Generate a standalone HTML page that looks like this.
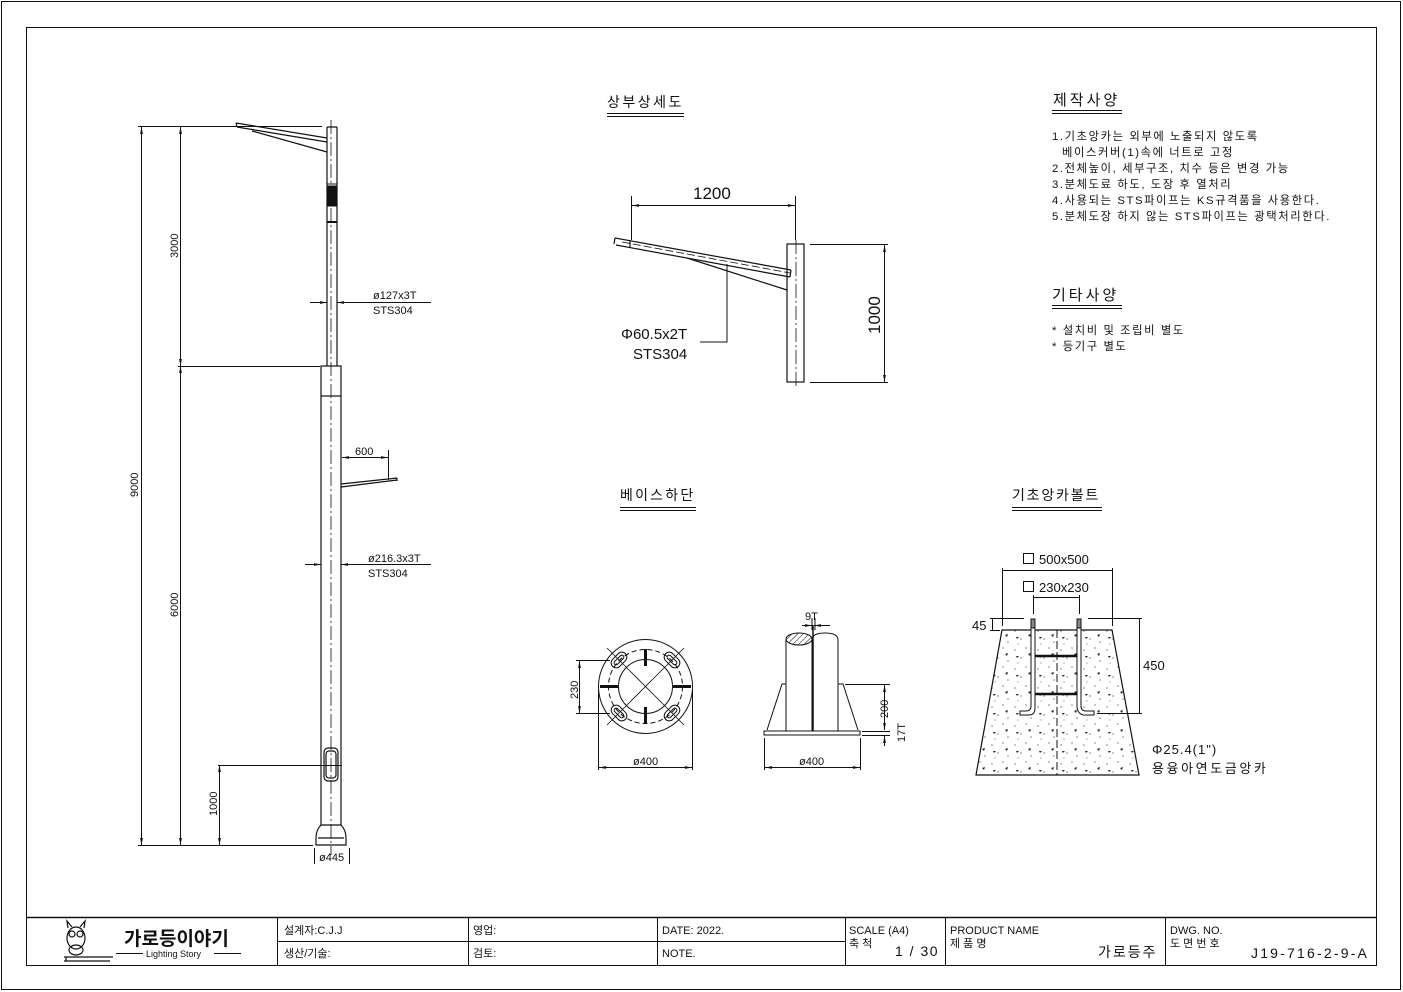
<!DOCTYPE html>
<html><head><meta charset="utf-8"><style>
html,body{margin:0;padding:0;background:#fff}
svg{display:block}
text{font-family:"Liberation Sans","Noto Sans CJK KR",sans-serif;fill:#111}
</style></head><body>
<svg width="1403" height="992" viewBox="0 0 1403 992" xmlns="http://www.w3.org/2000/svg">
<defs>
<marker id="a" viewBox="0 0 10 10" refX="10" refY="5" markerWidth="7" markerHeight="7" orient="auto-start-reverse"><path d="M0,3 L10,5 L0,7z" fill="#111"/></marker>
<pattern id="conc" width="23" height="19" patternUnits="userSpaceOnUse">
<circle cx="3" cy="4" r="0.6" fill="#333"/><circle cx="14" cy="2" r="0.6" fill="#333"/><circle cx="9" cy="12" r="0.6" fill="#333"/><circle cx="19" cy="15" r="0.6" fill="#333"/><circle cx="6" cy="17" r="0.5" fill="#333"/>
<path d="M16,8 l3,-1 l-1,3z" fill="#222"/><path d="M4,10 l3,0 l-2,2z" fill="#222"/>
</pattern>
<pattern id="hatch" width="4" height="4" patternUnits="userSpaceOnUse" patternTransform="rotate(45)"><line x1="0" y1="0" x2="0" y2="4" stroke="#111" stroke-width="1"/></pattern>
</defs>
<g fill="none" stroke="#111" stroke-width="1">
<rect x="1.5" y="1.5" width="1399" height="988"/>
<rect x="26.5" y="27.5" width="1350" height="938"/>
<line x1="26" y1="917.5" x2="1376" y2="917.5" stroke-width="1.5"/>
<line x1="277.5" y1="917" x2="277.5" y2="965"/>
<line x1="468.5" y1="917" x2="468.5" y2="965"/>
<line x1="657.5" y1="917" x2="657.5" y2="965"/>
<line x1="845.5" y1="917" x2="845.5" y2="965"/>
<line x1="945.5" y1="917" x2="945.5" y2="965"/>
<line x1="1165.5" y1="917" x2="1165.5" y2="965"/>
<line x1="277" y1="941.5" x2="845" y2="941.5"/>

<g stroke-width="1.2">
<path d="M327,127 V366 M337,127 V366 M327,127 H337"/>
<rect x="321" y="366" width="20" height="30"/>
<path d="M321,396 V825 M341,396 V825"/>
<path d="M321,825 Q316,830 316,838 L316,845 H346 L346,838 Q346,830 341,825 Z"/>
<line x1="318" y1="838" x2="344" y2="838"/>
<rect x="324" y="748" width="14" height="33" rx="4"/>
<rect x="326" y="751" width="10" height="27" rx="3"/>
<path d="M236,123 L327,138 M237,127 L327,142 M236,123 L237,127"/>
<path d="M252,131 L327,152"/>
<path d="M341,487 L397,480 M341,484 L397,478 M397,478 V481"/>
</g>
<line x1="331" y1="120" x2="331" y2="855" stroke-dasharray="14,3,2,3" stroke-width="0.8"/>
<rect x="327" y="184" width="10" height="38" stroke-width="1"/>
<rect x="327" y="186" width="10" height="20" fill="#111"/>
<line x1="327" y1="222" x2="337" y2="222" stroke-width="2"/>
<line x1="138" y1="126.5" x2="322" y2="126.5"/>
<line x1="178" y1="366.5" x2="320" y2="366.5"/>
<line x1="218" y1="765.5" x2="342" y2="765.5"/>
<line x1="138" y1="845.5" x2="313" y2="845.5"/>
<line x1="141.5" y1="127" x2="141.5" y2="845" marker-start="url(#a)" marker-end="url(#a)"/>
<line x1="180.5" y1="127" x2="180.5" y2="366" marker-start="url(#a)" marker-end="url(#a)"/>
<line x1="180.5" y1="366" x2="180.5" y2="845" marker-start="url(#a)" marker-end="url(#a)"/>
<line x1="219.5" y1="765" x2="219.5" y2="845" marker-start="url(#a)" marker-end="url(#a)"/>
<line x1="310" y1="302.5" x2="327" y2="302.5" marker-end="url(#a)"/>
<line x1="354" y1="302.5" x2="337" y2="302.5" marker-end="url(#a)"/>
<line x1="354" y1="302.5" x2="431" y2="302.5"/>
<line x1="305" y1="564.5" x2="321" y2="564.5" marker-end="url(#a)"/>
<line x1="358" y1="564.5" x2="341" y2="564.5" marker-end="url(#a)"/>
<line x1="358" y1="564.5" x2="431" y2="564.5"/>
<line x1="342" y1="457.5" x2="388" y2="457.5" marker-start="url(#a)" marker-end="url(#a)"/>
<line x1="388.5" y1="450" x2="388.5" y2="480"/>
<line x1="314.5" y1="848" x2="314.5" y2="864"/>
<line x1="349.5" y1="848" x2="349.5" y2="864"/>

<g stroke-width="1.2">
<path d="M615,238 L791,270 M616,245 L790,277 M615,238 L614,244 M791,270 L790,277 M630,240 L630,248"/>
<path d="M687,258 L787,290"/>
<rect x="787" y="244" width="17" height="138"/>
</g>
<line x1="622" y1="242" x2="790" y2="273" stroke-dasharray="8,3" stroke-width="0.8"/>
<line x1="796" y1="240" x2="796" y2="386" stroke-dasharray="14,3,2,3" stroke-width="0.8"/>
<line x1="631.5" y1="196" x2="631.5" y2="240"/>
<line x1="795.5" y1="196" x2="795.5" y2="240"/>
<line x1="632" y1="205.5" x2="795" y2="205.5" marker-start="url(#a)" marker-end="url(#a)"/>
<line x1="810" y1="244.5" x2="888" y2="244.5"/>
<line x1="810" y1="382.5" x2="888" y2="382.5"/>
<line x1="884.5" y1="245" x2="884.5" y2="382" marker-start="url(#a)" marker-end="url(#a)"/>
<path d="M727,264 V342 H700"/>

<circle cx="645.5" cy="686.5" r="47"/>
<circle cx="645.5" cy="686.5" r="27"/>
<circle cx="645.5" cy="686.5" r="37" stroke-dasharray="5,3"/>
<g stroke-width="3"><line x1="645.5" y1="649" x2="645.5" y2="666"/><line x1="645.5" y1="707" x2="645.5" y2="724"/><line x1="600" y1="686.5" x2="618" y2="686.5"/><line x1="673" y1="686.5" x2="691" y2="686.5"/></g>
<g stroke-width="0.8"><line x1="626" y1="667" x2="665" y2="706"/><line x1="665" y1="667" x2="626" y2="706"/>
<line x1="607" y1="648" x2="626" y2="667"/><line x1="684" y1="648" x2="665" y2="667"/><line x1="607" y1="725" x2="626" y2="706"/><line x1="684" y1="725" x2="665" y2="706"/></g>
<g transform="translate(619,660) rotate(-45)"><rect x="-9" y="-5" width="18" height="10" rx="5"/><rect x="-6" y="-2" width="12" height="4" rx="2"/></g>
<g transform="translate(672,660) rotate(45)"><rect x="-9" y="-5" width="18" height="10" rx="5"/><rect x="-6" y="-2" width="12" height="4" rx="2"/></g>
<g transform="translate(619,713) rotate(45)"><rect x="-9" y="-5" width="18" height="10" rx="5"/><rect x="-6" y="-2" width="12" height="4" rx="2"/></g>
<g transform="translate(672,713) rotate(-45)"><rect x="-9" y="-5" width="18" height="10" rx="5"/><rect x="-6" y="-2" width="12" height="4" rx="2"/></g>
<line x1="576" y1="660.5" x2="610" y2="660.5"/><line x1="576" y1="713.5" x2="610" y2="713.5"/>
<line x1="579.5" y1="661" x2="579.5" y2="713" marker-start="url(#a)" marker-end="url(#a)"/>
<line x1="598.5" y1="690" x2="598.5" y2="770"/><line x1="692.5" y1="690" x2="692.5" y2="770"/>
<line x1="599" y1="767.5" x2="692" y2="767.5" marker-start="url(#a)" marker-end="url(#a)"/>

<rect x="764" y="731" width="96" height="4"/>
<path d="M767,730 L782,684 H786 M838,684 H843 L858,730"/>
<path d="M786,731 V640 M812,731 V640"/>
<ellipse cx="799" cy="639" rx="13" ry="6" fill="url(#hatch)"/>
<path d="M812,731 V640 Q812,633 825,633 Q838,633 838,640 V731"/>
<line x1="813" y1="625" x2="813" y2="731" stroke-width="1.5"/>
<line x1="802" y1="625.5" x2="812" y2="625.5" marker-end="url(#a)"/>
<line x1="830" y1="625.5" x2="814" y2="625.5" marker-end="url(#a)"/>
<line x1="812" y1="618" x2="812" y2="630"/><line x1="815" y1="618" x2="815" y2="630"/>
<line x1="845" y1="684.5" x2="890" y2="684.5"/>
<line x1="862" y1="731.5" x2="890" y2="731.5"/><line x1="862" y1="735.5" x2="890" y2="735.5"/>
<line x1="884.5" y1="685" x2="884.5" y2="730" marker-start="url(#a)" marker-end="url(#a)"/>
<line x1="884.5" y1="746" x2="884.5" y2="736" marker-end="url(#a)"/>
<line x1="764.5" y1="738" x2="764.5" y2="770"/><line x1="860.5" y1="738" x2="860.5" y2="770"/>
<line x1="765" y1="767.5" x2="860" y2="767.5" marker-start="url(#a)" marker-end="url(#a)"/>

<path d="M1002,630 L1112,630 L1139,775 L976,775 Z" fill="url(#conc)" stroke-width="1.2"/>
<line x1="1057" y1="630" x2="1057" y2="775" stroke-dasharray="8,3"/>
<g stroke-width="1">
<path d="M1031,619 V706 Q1031,711 1026,711 H1020 V715 H1029 Q1035,715 1035,708 V619 Z" fill="#fff"/>
<path d="M1077,619 V706 Q1077,713 1083,715 H1094 V711 H1086 Q1081,711 1081,706 V619 Z" fill="#fff"/>
<rect x="1031" y="619" width="4" height="9" fill="#888"/><rect x="1077" y="619" width="4" height="9" fill="#888"/>
</g>
<line x1="1035" y1="656" x2="1077" y2="656" stroke-width="2.5"/>
<line x1="1035" y1="694" x2="1077" y2="694" stroke-width="2.5"/>
<line x1="1002.5" y1="568" x2="1002.5" y2="626"/><line x1="1112.5" y1="568" x2="1112.5" y2="626"/>
<line x1="1003" y1="570.5" x2="1112" y2="570.5"/>
<line x1="1033.5" y1="595" x2="1033.5" y2="614"/><line x1="1079.5" y1="595" x2="1079.5" y2="614"/>
<line x1="1034" y1="597.5" x2="1079" y2="597.5"/>
<line x1="990" y1="618.5" x2="1024" y2="618.5"/><line x1="1088" y1="618.5" x2="1142" y2="618.5"/>
<line x1="990" y1="630.5" x2="1000" y2="630.5"/>
<line x1="992.5" y1="619" x2="992.5" y2="630"/>
<line x1="1097" y1="713.5" x2="1142" y2="713.5"/>
<line x1="1139.5" y1="619" x2="1139.5" y2="713"/>
<path d="M607,113.5 H684 M607,116.5 H684"/>
<path d="M1052,110.5 H1122 M1052,113.5 H1122"/>
<path d="M1052,305.5 H1122 M1052,308.5 H1122"/>
<path d="M620,507.5 H696 M620,510.5 H696"/>
<path d="M1012,507.5 H1102 M1012,510.5 H1102"/>
<rect x="1023.5" y="553.5" width="10" height="10"/>
<rect x="1023.5" y="581.5" width="10" height="10"/>
</g>

<g font-size="11">
<text transform="translate(178,258) rotate(-90)">3000</text>
<text transform="translate(138,497) rotate(-90)">9000</text>
<text transform="translate(178,617) rotate(-90)">6000</text>
<text transform="translate(217,816) rotate(-90)">1000</text>
<text x="373" y="299">ø127x3T</text><text x="373" y="314">STS304</text>
<text x="355" y="455">600</text>
<text x="368" y="562">ø216.3x3T</text><text x="368" y="577">STS304</text>
<text x="319" y="861">ø445</text>
</g>
<text x="607" y="107" font-size="14" letter-spacing="2.5">상부상세도</text>
<text x="693" y="199" font-size="17">1200</text>
<text transform="translate(880,334) rotate(-90)" font-size="17">1000</text>
<text x="621" y="339" font-size="15">Φ60.5x2T</text>
<text x="633" y="359" font-size="15">STS304</text>
<text x="620" y="500" font-size="14" letter-spacing="2.2">베이스하단</text>
<text transform="translate(578,699) rotate(-90)" font-size="11">230</text>
<text x="633" y="765" font-size="11">ø400</text>
<text x="799" y="765" font-size="11">ø400</text>
<text x="805" y="620" font-size="11">9T</text>
<text transform="translate(888,718) rotate(-90)" font-size="11">200</text>
<text transform="translate(905,742) rotate(-90)" font-size="11">17T</text>
<text x="1012" y="500" font-size="14" letter-spacing="1.8">기초앙카볼트</text>
<text x="1039" y="564" font-size="13">500x500</text>
<text x="1039" y="592" font-size="13">230x230</text>
<text x="972" y="630" font-size="13">45</text>
<text x="1143" y="670" font-size="13">450</text>
<text x="1152" y="754" font-size="13" letter-spacing="1">Φ25.4(1")</text>
<text x="1152" y="773" font-size="13" letter-spacing="2.6">용융아연도금앙카</text>
<text x="1053" y="105" font-size="15" letter-spacing="3">제작사양</text>
<g font-size="11.3" letter-spacing="1.6">
<text x="1052" y="140">1.기초앙카는 외부에 노출되지 않도록</text>
<text x="1062" y="156">베이스커버(1)속에 너트로 고정</text>
<text x="1052" y="172">2.전체높이, 세부구조, 치수 등은 변경 가능</text>
<text x="1052" y="188">3.분체도료 하도, 도장 후 열처리</text>
<text x="1052" y="204">4.사용되는 STS파이프는 KS규격품을 사용한다.</text>
<text x="1052" y="220">5.분체도장 하지 않는 STS파이프는 광택처리한다.</text>
<text x="1052" y="334">* 설치비 및 조립비 별도</text>
<text x="1052" y="350">* 등기구 별도</text>
</g>
<text x="1052" y="300" font-size="15" letter-spacing="3">기타사양</text>
<g fill="none" stroke="#111" stroke-width="1.2">
<ellipse cx="76" cy="938" rx="9" ry="11"/><circle cx="72" cy="934" r="3"/><circle cx="80" cy="934" r="3"/>
<path d="M68,928 L67,921 L72,927 M84,928 L85,921 L80,927"/>
<ellipse cx="76" cy="950" rx="7" ry="5"/>
<path d="M64,957 H113 M64,961 H110 M66,957 V961"/>
</g>
<text x="124" y="945" font-size="19" font-weight="bold">가로등이야기</text>
<line x1="116" y1="953.5" x2="143" y2="953.5" stroke="#111"/>
<line x1="214" y1="953.5" x2="241" y2="953.5" stroke="#111"/>
<text x="146" y="957" font-size="9">Lighting Story</text>
<g font-size="11">
<text x="284" y="934">설계자:C.J.J</text>
<text x="284" y="957">생산/기술:</text>
<text x="473" y="934">영업:</text>
<text x="473" y="957">검토:</text>
<text x="662" y="934">DATE: 2022.</text>
<text x="662" y="957">NOTE.</text>
<text x="849" y="934">SCALE (A4)</text>
<text x="849" y="947">축 척</text>
<text x="950" y="934">PRODUCT NAME</text>
<text x="950" y="947">제 품 명</text>
<text x="1170" y="934">DWG. NO.</text>
<text x="1170" y="947">도 면 번 호</text>
</g>
<text x="895" y="956" font-size="14" letter-spacing="1.5">1 / 30</text>
<text x="1098" y="957" font-size="14" letter-spacing="2">가로등주</text>
<text x="1251" y="958" font-size="14" letter-spacing="2.2">J19-716-2-9-A</text>
</svg>
</body></html>
